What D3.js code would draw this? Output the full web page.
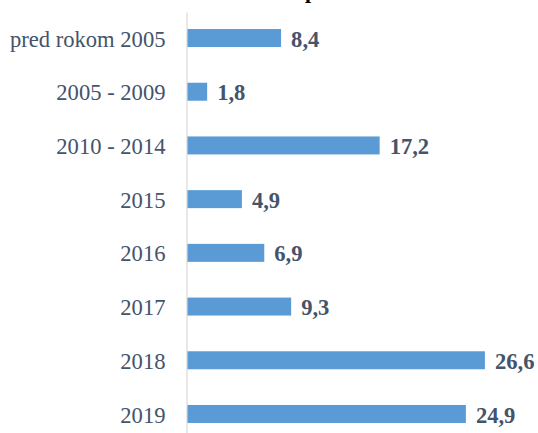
<!DOCTYPE html>
<html>
<head>
<meta charset="utf-8">
<script src="https://cdn.jsdelivr.net/npm/d3@7"></script>
<style>
  body { margin: 0; background: #fff; }
  svg { display: block; }
</style>
</head>
<body>
<div id="chart"></div>
<script>
var categories = ['pred rokom 2005', '2005 - 2009', '2010 - 2014', '2015', '2016', '2017', '2018', '2019'];
var values = [8.4, 1.8, 17.2, 4.9, 6.9, 9.3, 26.6, 24.9];

var width = 538, height = 433;

var svg = d3.select('#chart').append('svg')
    .attr('width', width)
    .attr('height', height);

var x = d3.scaleLinear()
    .domain([0, 30])
    .range([187, 523]);

var y = d3.scaleBand()
    .domain(categories)
    .range([12, 440])
    .paddingInner(0.665)
    .paddingOuter(0.317);

// bottom of the clipped title
svg.append('text')
    .attr('x', 311)
    .attr('y', -2)
    .attr('text-anchor', 'middle')
    .style('font-family', '"Liberation Serif", "Times New Roman", serif')
    .style('font-weight', 'bold')
    .style('font-size', '22px')
    .style('fill', '#000')
    .text('p');

svg.append('g')
    .attr('class', 'bars')
    .selectAll('rect')
    .data(values)
    .enter().append('rect')
      .attr('x', x(0))
      .attr('y', function(d, i) { return y(categories[i]); })
      .attr('width', function(d) { return x(d) - x(0); })
      .attr('height', y.bandwidth())
      .attr('fill', '#5b9bd5');

var axis = svg.append('g')
    .attr('transform', 'translate(186.5,0)')
    .call(d3.axisLeft(y).tickSize(0).tickPadding(21).tickSizeOuter(0));

axis.select('.domain')
    .attr('stroke', '#d9d9d9')
    .attr('stroke-width', 1.2);

axis.selectAll('text')
    .attr('dy', '0.38em')
    .style('font-family', '"Liberation Serif", "Times New Roman", serif')
    .style('font-size', '22.6px')
    .style('fill', '#44546a');

svg.append('g')
    .attr('class', 'labels')
    .selectAll('text')
    .data(values)
    .enter().append('text')
      .attr('x', function(d) { return x(d) + 10; })
      .attr('y', function(d, i) { return y(categories[i]) + y.bandwidth() / 2; })
      .attr('dy', '0.38em')
      .style('font-family', '"Liberation Serif", "Times New Roman", serif')
      .style('font-weight', 'bold')
      .style('font-size', '22.6px')
      .style('fill', '#44546a')
      .text(function(d) { return d.toFixed(1).replace('.', ','); });
</script>
</body>
</html>
